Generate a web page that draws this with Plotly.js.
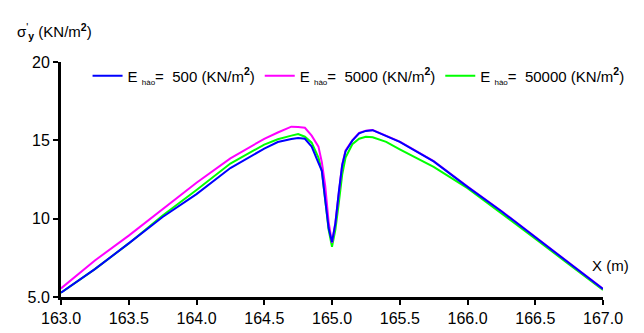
<!DOCTYPE html>
<html>
<head>
<meta charset="utf-8">
<script src="https://cdn.plot.ly/plotly-3.0.1.min.js"></script>
<style>html,body{margin:0;padding:0;background:#fff;}#chart{width:644px;height:333px;}</style>
</head>
<body>
<div id="chart"></div>
<script>
const xPos = [163.0, 163.25, 163.5, 163.75, 164.0, 164.25, 164.5, 164.6, 164.7, 164.75, 164.8, 164.85, 164.9, 164.925, 164.95, 164.975, 165.0, 165.025, 165.05, 165.075, 165.1, 165.15, 165.2, 165.25, 165.3, 165.4, 165.5, 165.75, 166.0, 166.25, 166.5, 166.75, 167.0];
const sigma500 = [5.27, 6.78, 8.42, 10.11, 11.57, 13.23, 14.47, 14.89, 15.08, 15.15, 15.1, 14.6, 13.56, 13.05, 11.2, 9.4, 8.5, 9.7, 11.7, 13.4, 14.3, 14.98, 15.45, 15.6, 15.65, 15.29, 14.9, 13.66, 12.03, 10.47, 8.82, 7.16, 5.51];
const sigma5000 = [5.55, 7.33, 8.92, 10.59, 12.29, 13.85, 15.1, 15.5, 15.87, 15.85, 15.8, 15.3, 14.6, 13.6, 12.1, 9.8, 8.45, 9.75, 11.75, 13.45, 14.35, 15.0, 15.48, 15.62, 15.66, 15.31, 14.92, 13.68, 12.05, 10.49, 8.84, 7.18, 5.52];
const sigma50000 = [5.27, 6.78, 8.42, 10.2, 11.83, 13.52, 14.73, 15.07, 15.3, 15.4, 15.23, 14.85, 13.9, 13.05, 11.2, 9.3, 8.2, 9.3, 11.0, 12.8, 13.9, 14.75, 15.1, 15.23, 15.2, 14.9, 14.43, 13.3, 11.95, 10.35, 8.72, 7.08, 5.45];
const sub = '<sub><span style="font-size:8px">hào</span></sub>';
const seriesNames = ['E ' + sub + '=  500 (KN/m<sup><b>2</b></sup>)', 'E ' + sub + '=  5000 (KN/m<sup><b>2</b></sup>)', 'E ' + sub + '=  50000 (KN/m<sup><b>2</b></sup>)'];
const xTicks = [163.0, 163.5, 164.0, 164.5, 165.0, 165.5, 166.0, 166.5, 167.0];
const xTickText = ['163.0', '163.5', '164.0', '164.5', '165.0', '165.5', '166.0', '166.5', '167.0'];
const yTicks = [5, 10, 15, 20];
const yTickText = ['5.0', '10', '15', '20'];

const FONT = '"Liberation Sans", Arial, sans-serif';

const traces = [
  {x: xPos, y: sigma50000, name: seriesNames[2], mode: 'lines', line: {color: '#00FF00', width: 2}, legendrank: 3},
  {x: xPos, y: sigma5000, name: seriesNames[1], mode: 'lines', line: {color: '#FF00FF', width: 2}, legendrank: 2},
  {x: xPos, y: sigma500, name: seriesNames[0], mode: 'lines', line: {color: '#0000FF', width: 2}, legendrank: 1}
];

const layout = {
  width: 644, height: 333,
  margin: {l: 61, r: 41, t: 62, b: 36},
  paper_bgcolor: '#fff', plot_bgcolor: '#fff',
  font: {family: FONT, size: 16, color: '#000'},
  showlegend: true,
  legend: {orientation: 'h', x: 0.049, xanchor: 'left', y: 0.94, yanchor: 'middle', bgcolor: 'rgba(0,0,0,0)', font: {family: FONT, size: 15, color: '#000'}, itemwidth: 30, tracegroupgap: 0},
  xaxis: {range: [163, 167], tickvals: xTicks, ticktext: xTickText, showgrid: false, zeroline: false, showline: true, linecolor: '#000', linewidth: 3, ticks: 'outside', ticklen: 5, tickwidth: 2, tickcolor: '#000', tickfont: {family: FONT, size: 16}},
  yaxis: {range: [5, 20], tickvals: yTicks, ticktext: yTickText, showgrid: false, zeroline: false, showline: true, linecolor: '#000', linewidth: 3, ticks: 'outside', ticklen: 5, tickwidth: 2, tickcolor: '#000', tickfont: {family: FONT, size: 16}},
  annotations: [
    {xref: 'paper', yref: 'paper', x: -0.085, y: 1.13, xanchor: 'left', yanchor: 'middle', showarrow: false, text: 'σ<sup>\'</sup><sub><b>y</b></sub> (KN/m<sup><b>2</b></sup>)', font: {family: FONT, size: 15, color: '#000'}},
    {xref: 'paper', yref: 'paper', x: 1.013, y: 0.136, xanchor: 'center', yanchor: 'middle', showarrow: false, text: 'X (m)', font: {family: FONT, size: 15, color: '#000'}}
  ]
};

Plotly.newPlot('chart', traces, layout, {displayModeBar: false, staticPlot: true});
</script>
</body>
</html>
